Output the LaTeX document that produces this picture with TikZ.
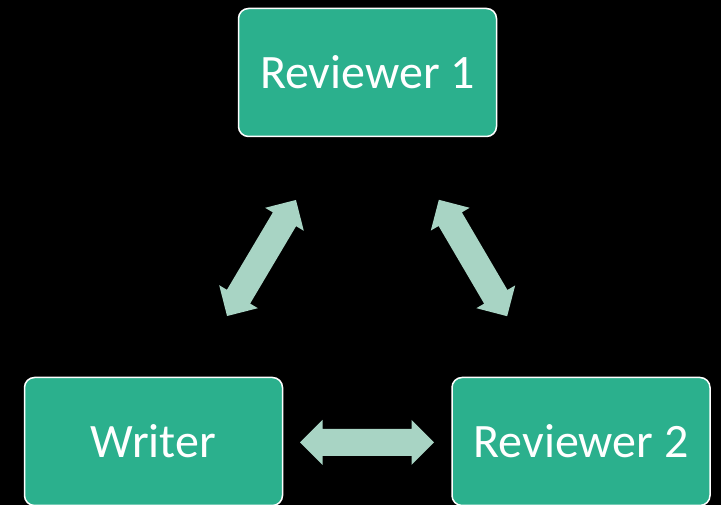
\documentclass[tikz,border=0pt]{standalone}
\usepackage{fontspec}
\setmainfont{Carlito}
\definecolor{boxfill}{RGB}{43,176,141}
\definecolor{arrowfill}{RGB}{168,212,196}
\tikzset{
  rolebox/.style={rectangle, rounded corners=10pt, draw=white, line width=1.5pt,
    fill=boxfill, minimum width=258pt, minimum height=128pt, inner sep=0pt,
    text=white, font=\fontsize{48}{58}\selectfont},
  pics/fatarrow/.style={code={
    \fill[arrowfill] (-#1,0) -- (-#1+22.5,22.5) -- (-#1+22.5,13.5) -- (#1-22.5,13.5)
      -- (#1-22.5,22.5) -- (#1,0) -- (#1-22.5,-22.5) -- (#1-22.5,-13.5)
      -- (-#1+22.5,-13.5) -- (-#1+22.5,-22.5) -- cycle;
  }}
}
\begin{document}
\begin{tikzpicture}[x=1pt,y=1pt]
\fill[black] (0,0) rectangle (721,505);
\useasboundingbox (0,0) rectangle (721,505);
\node[rolebox] (rev1) at (367.5,432.5) {Reviewer 1};
\node[rolebox] (writer) at (153.5,63.5) {Writer};
\node[rolebox] (rev2) at (581,63.5) {Reviewer 2};
\pic[rotate=59.3] at (261.5,247) {fatarrow=67.5};
\pic[rotate=-59.6] at (473,247) {fatarrow=67.5};
\pic at (367,62.5) {fatarrow=67};
\end{tikzpicture}
\end{document}
